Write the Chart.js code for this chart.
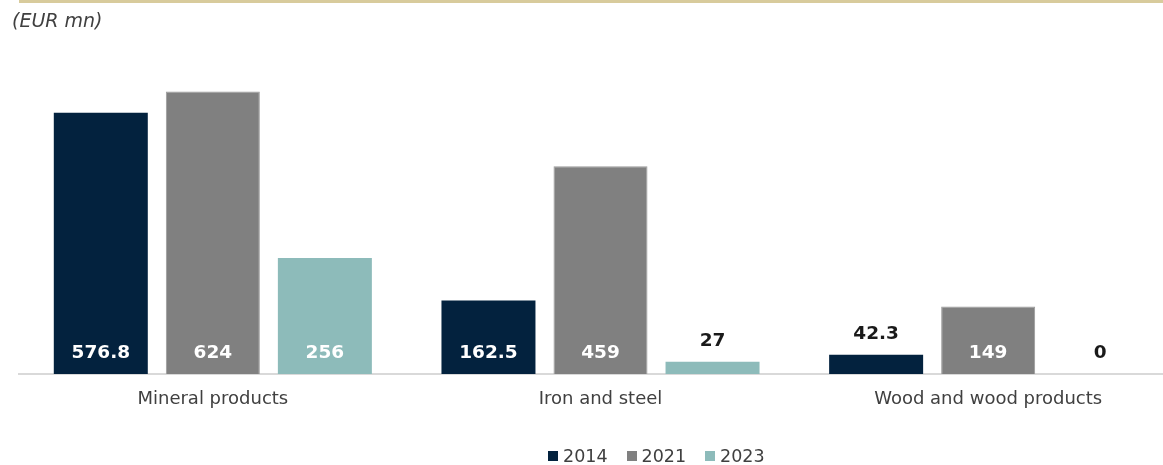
<!DOCTYPE html>
<html>
<head>
<meta charset="utf-8">
<script src="https://cdn.jsdelivr.net/npm/chart.js@4"></script>
<style>
  html, body { margin: 0; padding: 0; background: #fff; overflow: hidden; }
  #wrap { position: relative; width: 1182px; height: 465px; }
  #topline { position: absolute; left: 19px; top: 0; width: 1163px; height: 3px; background: #d8cb9c; }
  #unit { position: absolute; left: 12px; top: 9px; font: italic 19px "DejaVu Sans", sans-serif; color: #404040; }
  #legend { position: absolute; left: 548px; top: 446px; display: flex; font: 17.5px "DejaVu Sans", sans-serif; color: #404040; }
  #legend .item { display: flex; align-items: center; margin-right: 19px; }
  #legend .box { width: 10px; height: 10px; margin-right: 5px; }
</style>
</head>
<body>
<div id="wrap">
  <div id="topline"></div>
  <div id="unit">(EUR mn)</div>
  <canvas id="chart"></canvas>
  <div id="legend"></div>
</div>
<script>
const categories = ['Mineral products', 'Iron and steel', 'Wood and wood products'];
const years = ['2014', '2021', '2023'];
const values2014 = [576.8, 162.5, 42.3];
const values2021 = [624, 459, 149];
const values2023 = [256, 27, 0];
const colors = ['#03223e', '#808080', '#8dbbba'];

const series = [values2014, values2021, values2023];

// value labels: white inside the bar foot, or dark above short bars
const barLabels = {
  id: 'barLabels',
  afterDatasetsDraw(chart) {
    const ctx = chart.ctx;
    ctx.save();
    ctx.font = 'bold 18.5px "DejaVu Sans", sans-serif';
    ctx.textAlign = 'center';
    ctx.textBaseline = 'middle';
    chart.data.datasets.forEach((ds, i) => {
      const meta = chart.getDatasetMeta(i);
      meta.data.forEach((bar, j) => {
        const h = bar.base - bar.y;
        const txt = String(ds.data[j]);
        if (h > 40) {
          ctx.fillStyle = '#ffffff';
          ctx.fillText(txt, bar.x, bar.base - 21);
        } else {
          ctx.fillStyle = '#1a1a1a';
          ctx.fillText(txt, bar.x, bar.y - 21);
        }
      });
    });
    ctx.restore();
  }
};

new Chart(document.getElementById('chart'), {
  type: 'bar',
  data: {
    labels: categories,
    datasets: years.map((y, i) => ({
      label: y,
      data: series[i],
      backgroundColor: colors[i],
      borderColor: i === 1 ? '#9a9a9a' : colors[i],
      borderWidth: i === 1 ? 1 : 0,
      categoryPercentage: 0.867,
      barPercentage: 0.839
    }))
  },
  options: {
    responsive: true,
    maintainAspectRatio: false,
    animation: false,
    layout: { padding: { top: 57, left: 19, right: 0, bottom: 0 } },
    plugins: {
      legend: { display: false },
      tooltip: { enabled: false }
    },
    scales: {
      x: {
        grid: { display: false, drawTicks: false },
        border: { display: true, color: '#d9d9d9', width: 2 },
        ticks: {
          color: '#404040',
          padding: 15,
          font: { family: '"DejaVu Sans", sans-serif', size: 18 }
        },
        afterFit(scale) { scale.height = 91; }
      },
      y: {
        display: false,
        min: 0,
        max: 700
      }
    }
  },
  plugins: [barLabels]
});

// legend built from the same series names and colours
const legend = document.getElementById('legend');
years.forEach((y, i) => {
  const item = document.createElement('div');
  item.className = 'item';
  const box = document.createElement('span');
  box.className = 'box';
  box.style.background = colors[i];
  const txt = document.createElement('span');
  txt.textContent = y;
  item.appendChild(box);
  item.appendChild(txt);
  legend.appendChild(item);
});
</script>
</body>
</html>
